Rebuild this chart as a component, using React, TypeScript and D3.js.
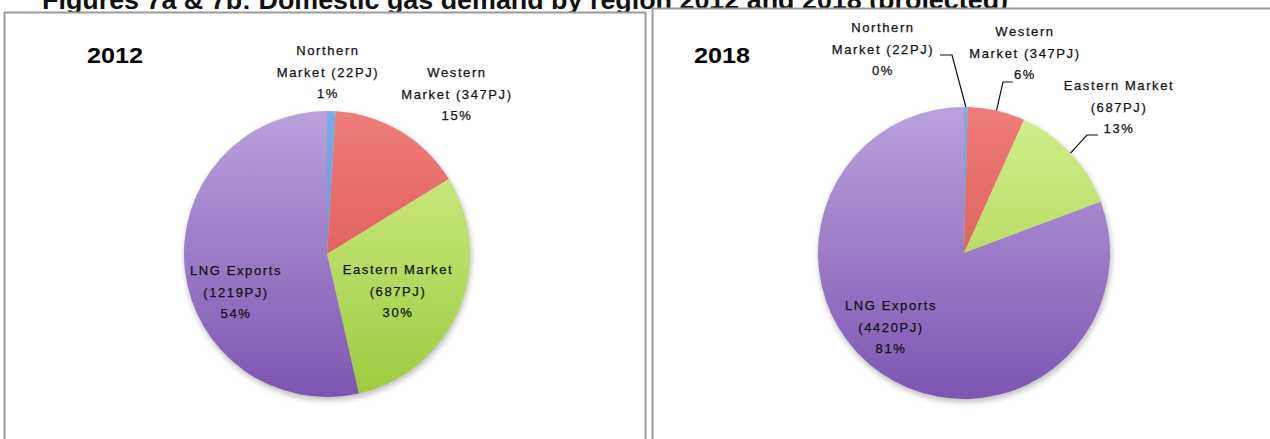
import React from "react";
import * as d3 from "d3";

const categories = ["Northern Market", "Western Market", "Eastern Market", "LNG Exports"];
const nameLines = [["Northern", "Market"], ["Western", "Market"], ["Eastern Market"], ["LNG Exports"]];
const values2012 = [22, 347, 687, 1219];
const values2018 = [22, 347, 687, 4420];
const years = ["2012", "2018"];
const title = "Figures 7a & 7b: Domestic gas demand by region 2012 and 2018 (projected)";

const colorsTop = ["#78aee8", "#ef7d78", "#d4ee8e", "#baa1dd"];
const colorsBottom = ["#4a8ad0", "#d44a45", "#9fcb3e", "#7c56b2"];

type Panel = {
  year: string;
  values: number[];
  frame: { x: number; y: number; w: number; h: number };
  yearPos: [number, number];
  cx: number;
  cy: number;
  r: number;
  labels: [number, number][];
  leaders: ([number, number, number] | null)[];
};

const panels: Panel[] = [
  {
    year: years[0],
    values: values2012,
    frame: { x: 4.5, y: 12.5, w: 641, h: 440 },
    yearPos: [115, 55],
    cx: 327,
    cy: 254,
    r: 143,
    labels: [[328, 72], [457, 94], [398, 291], [236, 292]],
    leaders: [null, null, null, null],
  },
  {
    year: years[1],
    values: values2018,
    frame: { x: 652.5, y: 8.5, w: 640, h: 440 },
    yearPos: [722, 55],
    cx: 964,
    cy: 253,
    r: 146,
    labels: [[883, 49], [1025, 53], [1119, 107], [891, 327]],
    leaders: [[940, 55, 12], [1013, 82, -10], [1098, 135, -11], null],
  },
];

const LINE_H = 21.5;

function labelLines(i: number, v: number, pct: string): string[] {
  const n = nameLines[i];
  if (n.length === 2) return [n[0], `${n[1]} (${v}PJ)`, pct];
  return [n[0], `(${v}PJ)`, pct];
}

function PiePanel({ p, idx }: { p: Panel; idx: number }) {
  const total = d3.sum(p.values);
  const pie = d3.pie<number>().sort(null).value((d) => d);
  const arcs = pie(p.values);
  const arc = d3.arc<d3.PieArcDatum<number>>().innerRadius(0).outerRadius(p.r);
  const font = "'Liberation Sans', Arial, sans-serif";
  return (
    <g>
      <rect
        x={p.frame.x}
        y={p.frame.y}
        width={p.frame.w}
        height={p.frame.h}
        fill="#fff"
        stroke="#9a9a9a"
        strokeWidth={2}
      />
      <text
        x={p.yearPos[0]}
        y={p.yearPos[1]}
        textAnchor="middle"
        dominantBaseline="central"
        fontFamily={font}
        fontWeight="bold"
        fontSize={22}
        textLength={56}
        lengthAdjust="spacingAndGlyphs"
        fill="#000"
      >
        {p.year}
      </text>
      <defs>
        {categories.map((c, i) => (
          <linearGradient
            key={c}
            id={`g${idx}-${i}`}
            gradientUnits="userSpaceOnUse"
            x1={0}
            y1={-p.r}
            x2={0}
            y2={p.r}
          >
            <stop offset="0" stopColor={colorsTop[i]} />
            <stop offset="1" stopColor={colorsBottom[i]} />
          </linearGradient>
        ))}
        <filter id={`sh${idx}`} x="-20%" y="-20%" width="140%" height="140%">
          <feGaussianBlur stdDeviation={2.5} />
        </filter>
      </defs>
      <circle cx={p.cx + 1} cy={p.cy + 3} r={p.r + 1} fill="#999" opacity={0.55} filter={`url(#sh${idx})`} />
      <g transform={`translate(${p.cx},${p.cy})`}>
        {arcs.map((a, i) => (
          <path key={categories[i]} d={arc(a) || ""} fill={`url(#g${idx}-${i})`} />
        ))}
      </g>
      {arcs.map((a, i) => {
        const ld = p.leaders[i];
        if (!ld) return null;
        const mid = (a.startAngle + a.endAngle) / 2;
        const ex = p.cx + Math.sin(mid) * p.r;
        const ey = p.cy - Math.cos(mid) * p.r;
        return (
          <polyline
            key={"l" + i}
            points={`${ld[0]},${ld[1]} ${ld[0] + ld[2]},${ld[1]} ${ex},${ey}`}
            fill="none"
            stroke="#111"
            strokeWidth={1.2}
          />
        );
      })}
      {p.values.map((v, i) => {
        const pct = `${Math.round((v / total) * 100)}%`;
        const lines = labelLines(i, v, pct);
        const [lx, ly] = p.labels[i];
        return (
          <text
            key={"t" + i}
            textAnchor="middle"
            fontFamily={font}
            fontSize={13}
            letterSpacing={1.6}
            fill="#111"
            stroke="#111"
            strokeWidth={0.25}
          >
            {lines.map((ln, k) => (
              <tspan key={k} x={lx} y={ly + (k - 1) * LINE_H} dominantBaseline="central">
                {ln}
              </tspan>
            ))}
          </text>
        );
      })}
    </g>
  );
}

export default function App() {
  return (
    <svg
      width={1270}
      height={439}
      style={{ position: "absolute", left: 0, top: 0, background: "#fff" }}
    >
      <rect width={1270} height={439} fill="#fff" />
      <text
        x={42}
        y={9}
        fontFamily="'Liberation Sans', Arial, sans-serif"
        fontWeight="bold"
        fontSize={26}
        textLength={966}
        lengthAdjust="spacingAndGlyphs"
        fill="#111"
      >
        {title}
      </text>
      {panels.map((p, i) => (
        <PiePanel key={p.year} p={p} idx={i} />
      ))}
    </svg>
  );
}
